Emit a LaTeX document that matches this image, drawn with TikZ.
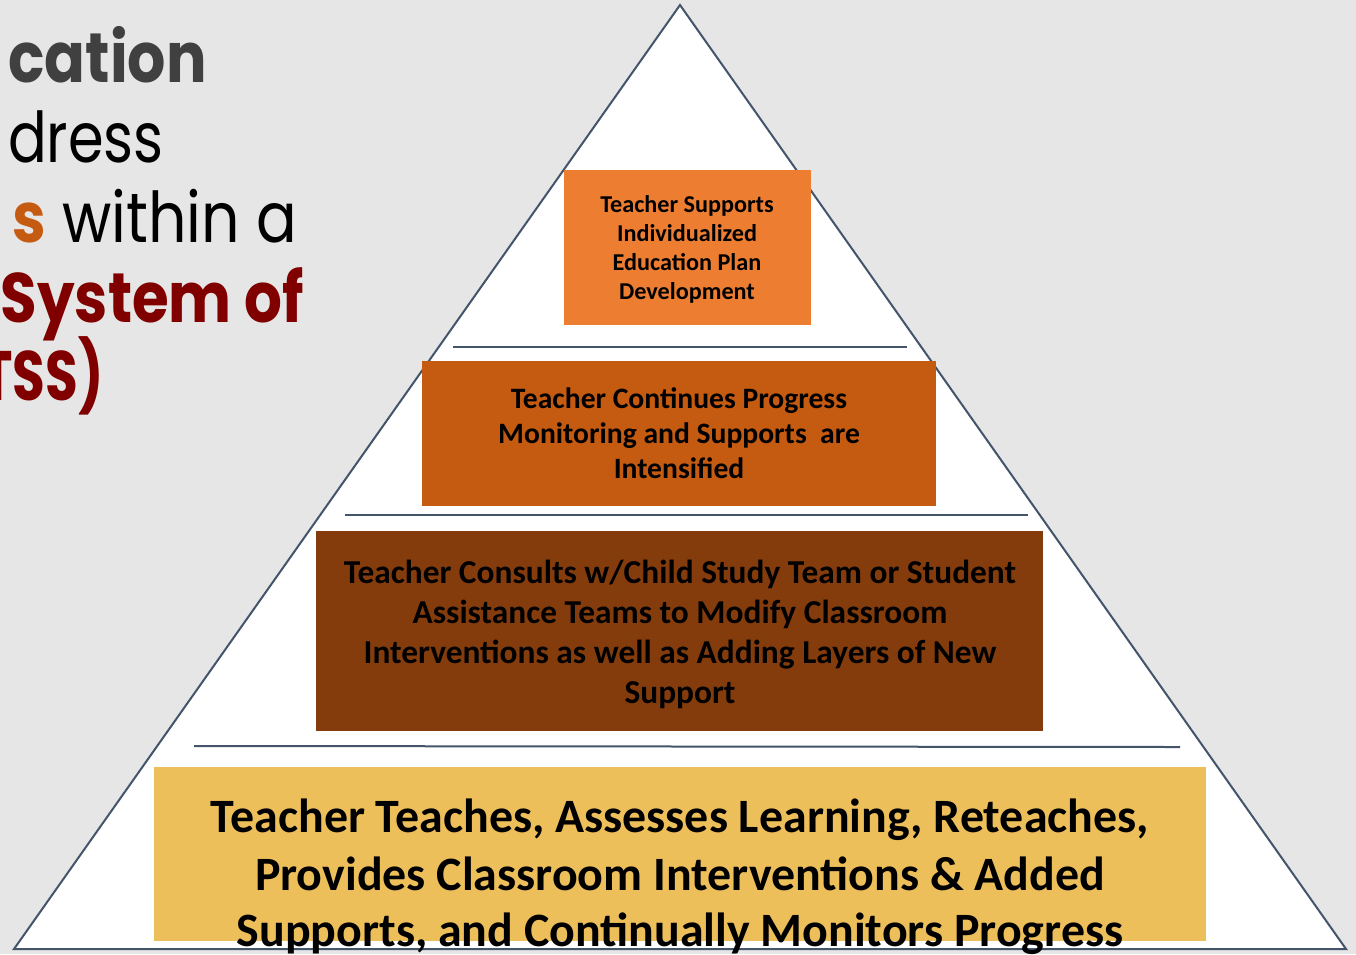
\documentclass[tikz,border=0pt]{standalone}
\usepackage{fontspec}
\setmainfont{Carlito}
\newfontfamily\titlefont[FakeStretch=0.86]{Poppins}
\newfontfamily\titlefontn[FakeStretch=0.82]{Poppins}
\newfontfamily\titlefonts[FakeStretch=0.85]{Poppins}
\newfontfamily\titlefontt[FakeStretch=0.76]{Poppins}
\definecolor{bgc}{HTML}{E7E6E6}
\definecolor{edgec}{HTML}{44546A}
\definecolor{tierA}{HTML}{ED7D31}
\definecolor{tierB}{HTML}{C55A11}
\definecolor{tierC}{HTML}{843C0C}
\definecolor{tierD}{HTML}{EDBF5A}
\definecolor{ttlgray}{HTML}{404040}
\definecolor{ttlorange}{HTML}{C55A11}
\definecolor{ttlred}{HTML}{800000}
\tikzset{
  tierbox/.style={draw=none, inner sep=0pt, outer sep=0pt},
  tiertext/.style={anchor=base, inner sep=0pt, text=black},
  textA/.style={tiertext, font=\bfseries\fontsize{24.2}{29}\selectfont},
  textB/.style={tiertext, font=\bfseries\fontsize{29.6}{35}\selectfont},
  textC/.style={tiertext, font=\bfseries\fontsize{33.4}{40}\selectfont},
  textD/.style={tiertext, font=\bfseries\fontsize{47.9}{57}\selectfont},
  sepline/.style={draw=edgec, line width=2pt},
  ttl/.style={anchor=base east, inner sep=0pt, font=\titlefont\fontsize{70}{80}\selectfont},
  ttlbold/.style={anchor=base east, inner sep=0pt, font=\titlefont\bfseries\fontsize{70}{80}\selectfont},
}
\begin{document}
\begin{tikzpicture}[x=1pt,y=-1pt]
\useasboundingbox (0,0) rectangle (1356,954);
\clip (0,0) rectangle (1356,954);
\fill[bgc] (0,0) rectangle (1356,954);

% title fragments
\node[ttlbold, text=ttlgray] (ttl1) at (207,82) {cation};
\node[ttl, text=black, font=\titlefontn\fontsize{70}{80}\selectfont] (ttl2) at (164,162) {dress};
\node[ttl, text=black] (ttl3) at (297,242) {{\bfseries\color{ttlorange}s} within a};
\node[ttlbold, text=ttlred, font=\titlefonts\bfseries\fontsize{70}{80}\selectfont] (ttl4) at (304,322) {System of};
\node[ttlbold, text=ttlred, font=\titlefontt\bfseries\fontsize{70}{80}\selectfont] (ttl5) at (104,400) {TSS)};

% pyramid
\coordinate (apex) at (680,5);
\coordinate (bl) at (14,949);
\coordinate (br) at (1346,949);
\filldraw[fill=white, draw=edgec, line width=2pt, line join=miter] (apex) -- (bl) -- (br) -- cycle;

% separators
\coordinate (s1l) at (453,347); \coordinate (s1r) at (907,347);
\coordinate (s2l) at (345,515); \coordinate (s2r) at (1028,515);
\coordinate (s3l) at (194,746); \coordinate (s3r) at (1180,747);
\draw[sepline] (s1l) -- (s1r);
\draw[sepline] (s2l) -- (s2r);
\draw[sepline] (s3l) -- (s3r);

% tier boxes
\node[tierbox, fill=tierA, minimum width=247pt, minimum height=155pt] (b1) at (687.5,247.5) {};
\node[tierbox, fill=tierB, minimum width=514pt, minimum height=145pt] (b2) at (679,433.5) {};
\node[tierbox, fill=tierC, minimum width=727pt, minimum height=200pt] (b3) at (679.5,631) {};
\node[tierbox, fill=tierD, minimum width=1052pt, minimum height=174pt] (b4) at (680,854) {};

% tier 1 text
\node[textA] (t1a) at (687,212) {Teacher Supports};
\node[textA] (t1b) at (687,241) {Individualized};
\node[textA] (t1c) at (687,270) {Education Plan};
\node[textA] (t1d) at (687,299) {Development};

% tier 2 text
\node[textB] (t2a) at (679,408) {Teacher Continues Progress};
\node[textB] (t2b) at (679,443) {Monitoring and Supports\ \ are};
\node[textB] (t2c) at (679,478) {Intensified};

% tier 3 text
\node[textC] (t3a) at (680,583) {Teacher Consults w/Child Study Team or Student};
\node[textC] (t3b) at (680,623) {Assistance Teams to Modify Classroom};
\node[textC] (t3c) at (680,663) {Interventions as well as Adding Layers of New};
\node[textC] (t3d) at (680,703) {Support};

% tier 4 text
\node[textD] (t4a) at (680,832) {Teacher Teaches, Assesses Learning, Reteaches,};
\node[textD] (t4b) at (680,890) {Provides Classroom Interventions \& Added};
\node[textD] (t4c) at (680,946) {Supports, and Continually Monitors Progress};
\end{tikzpicture}
\end{document}
